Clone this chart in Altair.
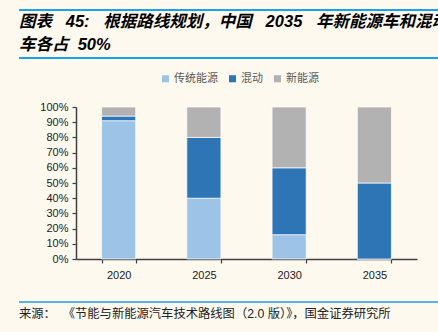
import altair as alt
import pandas as pd

years = ["2020", "2025", "2030", "2035"]
series = ["传统能源", "混动", "新能源"]
traditional = [91, 40, 16, 0]
hybrid = [3, 40, 44, 50]
nev = [6, 20, 40, 50]
colors = ["#9DC3E6", "#2E75B6", "#B2B2B2"]

SP = "\u00a0\u00a0\u00a0"
title_lines = [f"图表{SP}45:{SP}根据路线规划，中国{SP}2035{SP}年新能源车和混动",
               "车各占\u00a0\u00a050%"]
source_text = "来源：\u00a0\u00a0《节能与新能源汽车技术路线图（2.0 版）》，国金证券研究所"

rows = []
for i, y in enumerate(years):
    for k, (s, vals) in enumerate(zip(series, [traditional, hybrid, nev])):
        rows.append({"year": y, "series": s, "value": vals[i] / 100, "order": k})
df = pd.DataFrame(rows)

FONT = "Liberation Sans, Noto Sans CJK SC, sans-serif"

bars = alt.Chart(df).mark_bar(stroke="white", strokeWidth=0.7).encode(
    x=alt.X("year:N", sort=years, title=None,
            scale=alt.Scale(paddingInner=0.6, paddingOuter=0.3),
            axis=alt.Axis(labelAngle=0, tickBand="extent", domainColor="#404040",
                          domainWidth=1.5, tickColor="#404040", tickWidth=1.2, tickSize=4,
                          labelFontSize=11, labelColor="#222222", labelFont=FONT,
                          labelPadding=6, grid=False)),
    y=alt.Y("value:Q", stack="zero", title=None,
            scale=alt.Scale(domain=[0, 1]),
            axis=alt.Axis(format=".0%", values=[i / 10 for i in range(11)],
                          domainColor="#404040", domainWidth=1.5, tickColor="#404040",
                          tickWidth=1.2, tickSize=4, labelFontSize=11,
                          labelColor="#222222", labelFont=FONT, labelPadding=4, grid=False)),
    color=alt.Color("series:N", sort=series,
                    scale=alt.Scale(domain=series, range=colors),
                    legend=alt.Legend(title=None, orient="none", direction="horizontal",
                                      legendX=84, legendY=-34, symbolType="square",
                                      symbolSize=50, symbolStrokeWidth=0,
                                      labelFontSize=11, labelColor="#595959",
                                      labelFont=FONT, labelOffset=3, columnPadding=9)),
    order=alt.Order("order:Q", sort="ascending"),
)

def rule(y, color):
    return alt.Chart(pd.DataFrame({"a": [0]})).mark_rule(color=color, strokeWidth=1.8).encode(
        x=alt.value(-57), x2=alt.value(362), y=alt.value(y))

def text(t, x, y, size, bold=False, italic=False, color="#000000"):
    return alt.Chart(pd.DataFrame({"t": [t]})).mark_text(
        align="left", baseline="middle", fontSize=size, font=FONT,
        fontWeight="bold" if bold else "normal",
        fontStyle="italic" if italic else "normal", color=color).encode(
        text="t:N", x=alt.value(x), y=alt.value(y))

chart = alt.layer(
    bars,
    rule(-97, "#1AA3E8"),
    rule(-49, "#1AA3E8"),
    rule(195, "#5AB3E3"),
    text(title_lines[0], -57, -85, 16.5, bold=True, italic=True),
    text(title_lines[1], -57, -62, 16.5, bold=True, italic=True),
    text(source_text, -57, 207, 12.3, color="#222222"),
).properties(
    width=341, height=152,
    background="#FDF9EF",
    padding={"left": 76, "top": 107, "right": 21, "bottom": 73},
    autosize=alt.AutoSizeParams(type="none"),
).configure_view(stroke=None)

chart.save("out.html", embed_options={"renderer": "svg", "actions": False})
